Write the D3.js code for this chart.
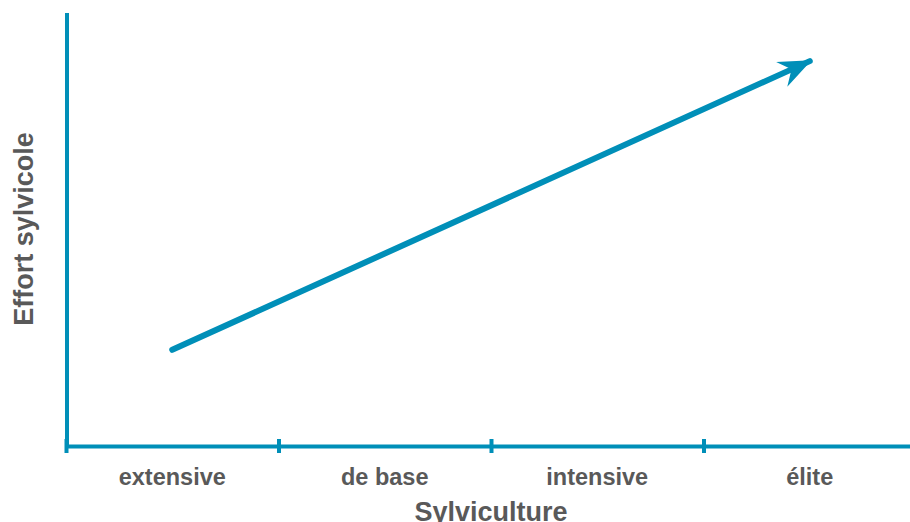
<!DOCTYPE html>
<html>
<head>
  <title>Sylviculture</title>
  <script src="https://d3js.org/d3.v7.min.js"></script>
  <style>
    body { margin: 0; background: #fff; }
    text { font-family: "Liberation Sans", Arial, sans-serif; font-weight: bold; fill: #595959; }
  </style>
</head>
<body>
  <svg id="chart" width="910" height="522"></svg>

  <script>
    // data
    const categories = ["extensive", "de base", "intensive", "élite"];
    const effort = [1, 2, 3, 4];
    const xTitle = "Sylviculture";
    const yTitle = "Effort sylvicole";

    const blue = "#008fb8";
    const svg = d3.select("#chart");

    const x = d3.scaleBand().domain(categories).range([66, 916]);
    const y = d3.scaleLinear().domain([0, 4.5]).range([446, 13]);

    // arrow head
    svg.append("defs").append("marker")
      .attr("id", "arrow")
      .attr("markerUnits", "userSpaceOnUse")
      .attr("viewBox", "-32 -15 34 30")
      .attr("refX", 0).attr("refY", 0)
      .attr("markerWidth", 34).attr("markerHeight", 30)
      .attr("orient", "auto")
      .append("path")
      .attr("d", "M2,0 L-31,-13 L-20,0 L-31,14 Z")
      .attr("fill", blue);

    // x axis
    const xAxis = svg.append("g")
      .attr("transform", `translate(0,${y(0)})`)
      .call(d3.axisBottom(x).tickSize(0).tickPadding(22));
    xAxis.select(".domain").attr("stroke", blue).attr("stroke-width", 4);
    xAxis.selectAll("text").attr("font-size", 23.5).attr("fill", "#595959");

    // boundary ticks between categories
    svg.append("g").selectAll("line")
      .data(categories)
      .join("line")
      .attr("x1", d => x(d) + 0.5).attr("x2", d => x(d) + 0.5)
      .attr("y1", y(0) - 7).attr("y2", y(0) + 7)
      .attr("stroke", blue).attr("stroke-width", 4);

    // y axis
    svg.append("line")
      .attr("x1", x.range()[0] + 1).attr("x2", x.range()[0] + 1)
      .attr("y1", y.range()[1]).attr("y2", y(0) + 2)
      .attr("stroke", blue).attr("stroke-width", 4);

    // the trend line
    const pts = categories.map((c, i) => [x(c) + x.bandwidth() / 2, y(effort[i])]);
    const line = d3.line();
    svg.append("path")
      .attr("d", line([pts[0], pts[pts.length - 1]]))
      .attr("fill", "none")
      .attr("stroke", blue)
      .attr("stroke-width", 6)
      .attr("stroke-linecap", "round")
      .attr("marker-end", "url(#arrow)");

    // axis titles
    svg.append("text")
      .attr("x", 491).attr("y", 521)
      .attr("text-anchor", "middle")
      .attr("font-size", 27)
      .text(xTitle);

    svg.append("text")
      .attr("transform", "translate(33,229) rotate(-90)")
      .attr("text-anchor", "middle")
      .attr("font-size", 27)
      .text(yTitle);
  </script>
</body>
</html>
